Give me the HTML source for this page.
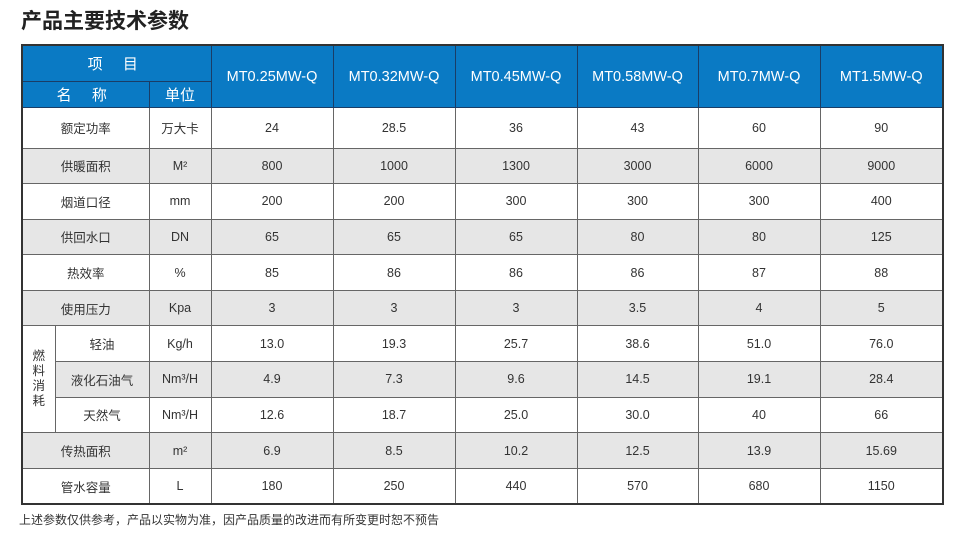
<!DOCTYPE html>
<html><head><meta charset="utf-8"><style>
body{margin:0;width:969px;height:533px;background:#fff;position:relative;overflow:hidden;font-family:"Liberation Sans","Noto Sans CJK SC",sans-serif;}
.title{position:absolute;left:21px;top:5px;font-size:21px;color:#222;font-weight:bold;letter-spacing:0px}
table{position:absolute;left:21px;top:44px;border-collapse:collapse;table-layout:fixed;width:921px;border:2px solid #333}
td{border:1px solid #666;text-align:center;font-size:12.5px;color:#333;padding:0;height:34.6px}
th{background:#0a7ac4;color:#fff;font-weight:normal;border:1px solid #1a3d66;padding:0}
.g td.s{background:#e6e6e6}
.note{position:absolute;left:19px;top:511px;font-size:12px;color:#333}
</style></head><body>
<div class="title">产品主要技术参数</div>
<table>
<colgroup><col style="width:33px"><col style="width:94px"><col style="width:62px"><col style="width:122px"><col style="width:122px"><col style="width:122px"><col style="width:121px"><col style="width:122px"><col style="width:123px"></colgroup>
<tr><th colspan="3" style="height:35px;font-size:15px;letter-spacing:8px">项 目</th><th rowspan="2" style="font-size:14.5px">MT0.25MW-Q</th><th rowspan="2" style="font-size:14.5px">MT0.32MW-Q</th><th rowspan="2" style="font-size:14.5px">MT0.45MW-Q</th><th rowspan="2" style="font-size:14.5px">MT0.58MW-Q</th><th rowspan="2" style="font-size:14.5px">MT0.7MW-Q</th><th rowspan="2" style="font-size:14.5px">MT1.5MW-Q</th></tr>
<tr><th colspan="2" style="height:25px;font-size:15px;letter-spacing:8px">名 称</th><th style="font-size:15px">单位</th></tr>
<tr><td colspan="2" style="height:39.5px">额定功率</td><td>万大卡</td><td>24</td><td>28.5</td><td>36</td><td>43</td><td>60</td><td>90</td></tr>
<tr class="g"><td class="s" colspan="2">供暖面积</td><td class="s">M²</td><td class="s">800</td><td class="s">1000</td><td class="s">1300</td><td class="s">3000</td><td class="s">6000</td><td class="s">9000</td></tr>
<tr><td colspan="2">烟道口径</td><td>mm</td><td>200</td><td>200</td><td>300</td><td>300</td><td>300</td><td>400</td></tr>
<tr class="g"><td class="s" colspan="2">供回水口</td><td class="s">DN</td><td class="s">65</td><td class="s">65</td><td class="s">65</td><td class="s">80</td><td class="s">80</td><td class="s">125</td></tr>
<tr><td colspan="2">热效率</td><td>%</td><td>85</td><td>86</td><td>86</td><td>86</td><td>87</td><td>88</td></tr>
<tr class="g"><td class="s" colspan="2">使用压力</td><td class="s">Kpa</td><td class="s">3</td><td class="s">3</td><td class="s">3</td><td class="s">3.5</td><td class="s">4</td><td class="s">5</td></tr>
<tr><td rowspan="3" style="line-height:15px">燃<br>料<br>消<br>耗</td><td>轻油</td><td>Kg/h</td><td>13.0</td><td>19.3</td><td>25.7</td><td>38.6</td><td>51.0</td><td>76.0</td></tr>
<tr class="g"><td class="s">液化石油气</td><td class="s">Nm³/H</td><td class="s">4.9</td><td class="s">7.3</td><td class="s">9.6</td><td class="s">14.5</td><td class="s">19.1</td><td class="s">28.4</td></tr>
<tr><td>天然气</td><td>Nm³/H</td><td>12.6</td><td>18.7</td><td>25.0</td><td>30.0</td><td>40</td><td>66</td></tr>
<tr class="g"><td class="s" colspan="2">传热面积</td><td class="s">m²</td><td class="s">6.9</td><td class="s">8.5</td><td class="s">10.2</td><td class="s">12.5</td><td class="s">13.9</td><td class="s">15.69</td></tr>
<tr><td colspan="2">管水容量</td><td>L</td><td>180</td><td>250</td><td>440</td><td>570</td><td>680</td><td>1150</td></tr>
</table>
<div class="note">上述参数仅供参考，产品以实物为准，因产品质量的改进而有所变更时恕不预告</div>
</body></html>
